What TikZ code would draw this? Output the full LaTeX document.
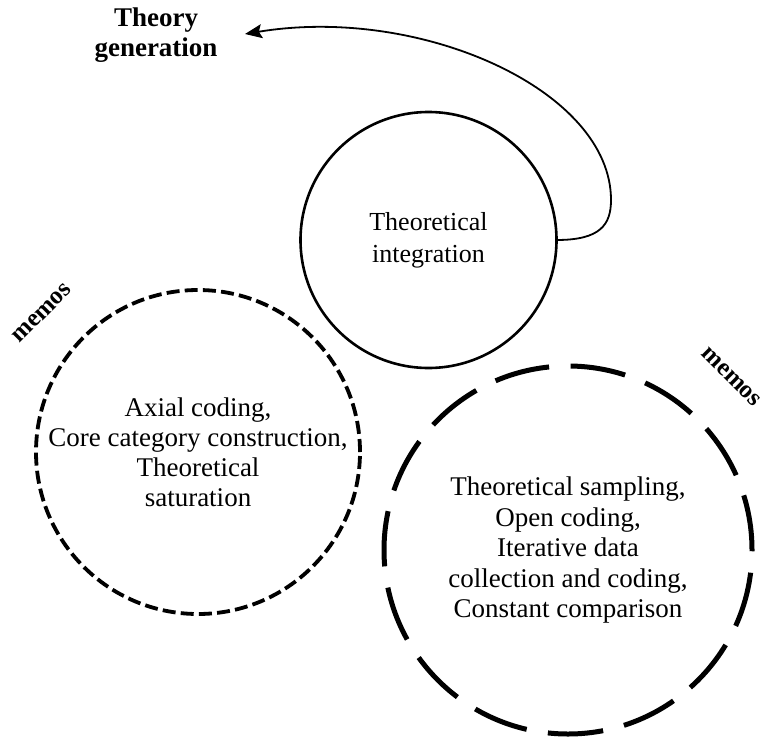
\documentclass[tikz,border=0pt]{standalone}
\usepackage{fontspec}
\setmainfont{LiberationSerif}[
  Extension=.ttf,
  UprightFont=*-Regular,
  BoldFont=*-Bold,
  ItalicFont=*-Italic,
  BoldItalicFont=*-BoldItalic]
\usetikzlibrary{arrows.meta}

\begin{document}
\begin{tikzpicture}[x=1pt,y=-1pt,
  phase/.style={circle, draw=black, inner sep=0pt, outer sep=0pt,
                align=center, text=black},
  solidring/.style={phase, line width=2.6pt, minimum size=256pt,
                    font=\fontsize{26}{32}\selectfont},
  shortdash/.style={phase, line width=3.8pt, minimum size=324pt,
                    dash pattern=on 13pt off 5.2pt,
                    font=\fontsize{27}{30}\selectfont},
  longdash/.style={phase, line width=5pt, minimum size=368pt,
                   dash pattern=on 55.5pt off 21.5pt,
                   font=\fontsize{27}{30.5}\selectfont},
  tag/.style={font=\bfseries\fontsize{27}{30}\selectfont, align=center},
  memo/.style={font=\bfseries\fontsize{25}{28}\selectfont},
  loop/.style={line width=1.8pt, -{Stealth[length=17pt,width=14pt,inset=3pt]}}
]
  \useasboundingbox (0,0) rectangle (767,736);

  % the three phases
  \node[solidring] (integ) at (428.5,240) {Theoretical\\integration};
  \node[shortdash] (axial) at (198,452)
    {Axial coding,\\Core category construction,\\Theoretical\\saturation};
  \node[longdash] (open) at (568,550)
    {Theoretical sampling,\\Open coding,\\Iterative data\\collection and coding,\\Constant comparison};

  % outcome and feedback loop
  \node[tag] (theory) at (156,35) {Theory\\generation};
  \coordinate (tip) at (245,34);
  \draw[loop] (integ.east) .. controls (600,240) and (611,225) .. (611,200)
                           .. controls (611,90) and (420,5) .. (tip);

  % memo annotations
  \node[memo, rotate=45] (memoL) at (42,313) {memos};
  \node[memo, rotate=-45] (memoR) at (731,377) {memos};
\end{tikzpicture}
\end{document}
